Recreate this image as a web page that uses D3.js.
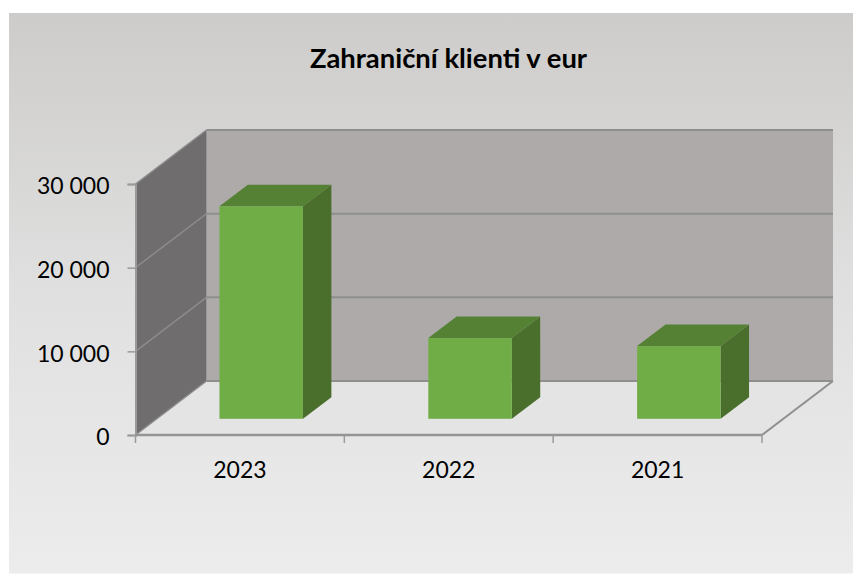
<!DOCTYPE html>
<html><head><meta charset="utf-8">
<script src="https://cdn.jsdelivr.net/npm/d3@7"></script>
<style>html,body{margin:0;padding:0;background:#fff;overflow:hidden}svg{display:block}text{font-family:Lato,"Open Sans",sans-serif;fill:#000}</style>
</head><body><svg id="c" width="853" height="574"></svg>
<script>
const categories = ["2023","2022","2021"];
const values = [25400,9650,8690];
const yTicks = [0,10000,20000,30000];
const titleText = "Zahraniční klienti v eur";

const svg = d3.select("#c");
const defs = svg.append("defs");
const g = defs.append("linearGradient").attr("id","bg").attr("x1",0).attr("x2",0).attr("y1",0).attr("y2",1);
g.append("stop").attr("offset",0).attr("stop-color","#cdccca");
g.append("stop").attr("offset",0.5).attr("stop-color","#e0e0e0");
g.append("stop").attr("offset",1).attr("stop-color","#ececec");
svg.append("rect").attr("x",9).attr("y",13).attr("width",844).attr("height",560.5).attr("fill","url(#bg)");

const x = d3.scaleBand().domain(categories).range([135.5,762]).paddingInner(0.6).paddingOuter(0.3);
const xEdge = d3.scaleLinear().domain([0,categories.length]).range([135.5,762]);
const y = d3.scaleLinear().domain([0,30000]).range([435,184]);
const dx = 71, dy = -54;
const poly = pts => pts.map(p=>p.join(",")).join(" ");
const x0=x.range()[0], x1=x.range()[1], y0=y(0), yT=y(30000);

// walls and floor
svg.append("polygon").attr("points",poly([[x0,y0],[x1,y0],[x1+dx,y0+dy],[x0+dx,y0+dy]])).attr("fill","#e4e4e4");
svg.append("rect").attr("x",x0+dx).attr("y",yT+dy).attr("width",x1-x0).attr("height",y0-yT).attr("fill","#aeaaaa");
svg.append("polygon").attr("points",poly([[x0,y0],[x0+dx,y0+dy],[x0+dx,yT+dy],[x0,yT]])).attr("fill","#6f6d6d");

// gridlines
const line="#8f8f8f";
yTicks.forEach(t=>{
  const yy=y(t);
  svg.append("line").attr("x1",x0+dx).attr("x2",x1+dx).attr("y1",yy+dy).attr("y2",yy+dy).attr("stroke",line).attr("stroke-width",2);
  svg.append("line").attr("x1",x0).attr("x2",x0+dx).attr("y1",yy).attr("y2",yy+dy).attr("stroke","#8c8c8c").attr("stroke-width",1.5);
});
svg.append("line").attr("x1",x1).attr("x2",x1+dx).attr("y1",y0).attr("y2",y0+dy).attr("stroke",line).attr("stroke-width",2);

// axes
const fmt = d3.formatLocale({decimal:",",thousands:" ",grouping:[3],currency:["","€"]}).format(",d");
const yAxis = d3.axisLeft(y).tickValues(yTicks).tickFormat(fmt).tickSize(8).tickPadding(18);
const ya = svg.append("g").attr("transform",`translate(${x0},0)`).call(yAxis);
ya.select(".domain").attr("stroke","#9a9a9a").attr("stroke-width",2);
ya.selectAll(".tick line").attr("stroke","#9a9a9a").attr("stroke-width",1.5);
ya.selectAll("text").style("font-size","23px").attr("font-size",null).attr("font-family",null).attr("dy","0.43em");

const xa = svg.append("g").attr("transform",`translate(0,${y0})`);
xa.append("line").attr("x1",x0).attr("x2",x1).attr("y1",0).attr("y2",0).attr("stroke","#949494").attr("stroke-width",2.5);
d3.range(categories.length+1).forEach(i=>{
  xa.append("line").attr("x1",xEdge(i)).attr("x2",xEdge(i)).attr("y1",0).attr("y2",8).attr("stroke","#9a9a9a").attr("stroke-width",1.5);
});
xa.selectAll("text.cat").data(categories).join("text").attr("class","cat")
  .attr("x",d=>x(d)+x.bandwidth()/2).attr("y",43).attr("text-anchor","middle").style("font-size","23px").text(d=>d);

// bars
const zNear = 0.30, zFar = 0.70;
const bars = svg.append("g").selectAll("g").data(categories.map((c,i)=>({c,v:values[i]}))).join("g");
bars.each(function(d){
  const b=d3.select(this);
  const fx=x(d.c)+dx*zNear, w=x.bandwidth(), base=y(0)+dy*zNear, h=y(0)-y(d.v);
  const top=base-h, ox=dx*(zFar-zNear), oy=dy*(zFar-zNear);
  b.append("polygon").attr("points",poly([[fx+w,top],[fx+w+ox,top+oy],[fx+w+ox,base+oy],[fx+w,base]])).attr("fill","#4a6e2b");
  b.append("polygon").attr("points",poly([[fx,top],[fx+ox,top+oy],[fx+w+ox,top+oy],[fx+w,top]])).attr("fill","#558135");
  b.append("rect").attr("x",fx).attr("y",top).attr("width",w).attr("height",h).attr("fill","#70ad47");
});

svg.append("text").attr("x",448.5).attr("y",67.5).attr("text-anchor","middle").style("font-size","27.4px").style("font-weight",700).text(titleText);
</script></body></html>
